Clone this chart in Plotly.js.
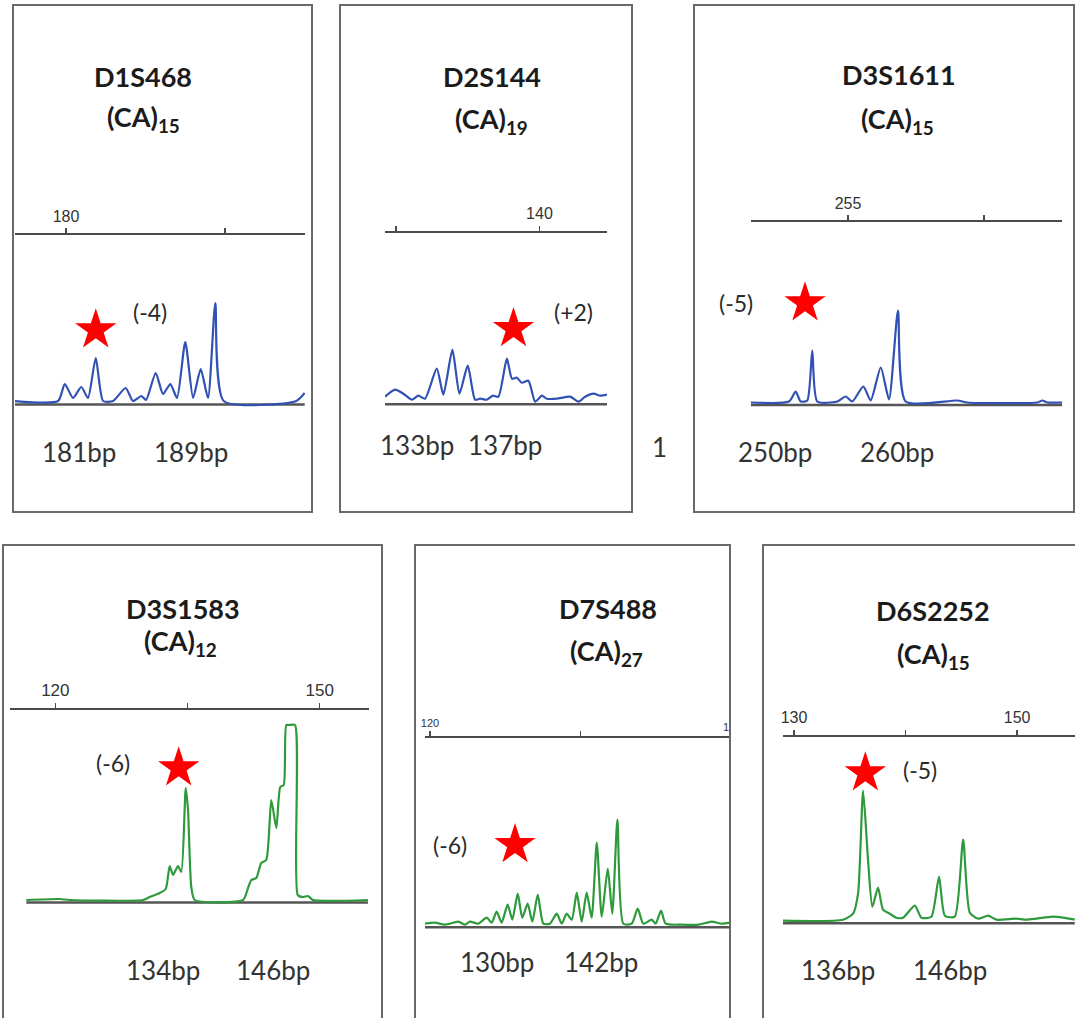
<!DOCTYPE html>
<html><head><meta charset="utf-8">
<script src="https://cdn.plot.ly/plotly-3.0.1.min.js"></script>
<style>html,body{margin:0;padding:0;background:#fff}#chart{width:1075px;height:1018px}</style>
</head><body><div id="chart"></div><script>
// ---------- DATA ----------
const markers = ['D1S468', 'D2S144', 'D3S1611', 'D3S1583', 'D7S488', 'D6S2252'];
const repeats = ['(CA)<sub>15</sub>', '(CA)<sub>19</sub>', '(CA)<sub>15</sub>', '(CA)<sub>12</sub>', '(CA)<sub>27</sub>', '(CA)<sub>15</sub>'];
const shiftLabels = ['(-4)', '(+2)', '(-5)', '(-6)', '(-6)', '(-5)'];
const alleleLabels = [['181bp', '189bp'], ['133bp', '137bp'], ['250bp', '260bp'], ['134bp', '146bp'], ['130bp', '142bp'], ['136bp', '146bp']];
const tickVals = [[180], [140], [255], [120, 150], [120], [130, 150]];
const tickText = [['180'], ['140'], ['255'], ['120', '150'], ['120'], ['130', '150']];
const minorTickVals = [[190], [130], [270], [135], [130], [140]];
const starBp = [181.87, 138.19, 250.26, 134.0, 125.65, 136.39];
const starHeight = [73, 74, 100.6, 133, 81, 148.7];

const p1Bp = [176.77, 179.50, 179.92, 180.44, 180.96, 181.38, 181.87, 182.33, 182.96, 183.75, 184.21, 184.74, 185.03, 185.64, 186.10, 186.56, 186.98, 187.50, 187.99, 188.47, 188.93, 189.39, 189.92, 194.48, 195.01];
const p1Signal = [2, 2, 19, 5, 16, 5, 45, 2, 2, 15, 2, 7, 3, 30, 9, 19, 5, 61, 5, 34, 5, 100, 2, 2, 10];
const p2Bp = [129.23, 129.93, 130.51, 131.10, 131.56, 132.02, 132.84, 133.30, 133.93, 134.42, 135.00, 135.51, 135.86, 136.33, 136.75, 137.14, 137.73, 138.08, 138.42, 138.77, 139.23, 139.70, 140.17, 140.52, 141.21, 142.14, 142.72, 143.19, 143.77, 144.24, 144.71];
const p2Signal = [6, 13, 9, 3, 7, 4, 34, 8, 53, 9, 37, 3, 4, 3, 7, 6, 44, 24, 25, 20, 22, 1, 7, 4, 4, 6, 1, 6, 9, 7, 8];
const p3Bp = [244.27, 248.49, 249.23, 249.78, 250.51, 251.06, 251.61, 253.82, 254.75, 255.47, 256.69, 257.50, 258.61, 259.52, 260.51, 261.36, 267.05, 268.16, 275.88, 276.43, 276.98, 278.63];
const p3Signal = [1, 2, 12, 2, 3, 53, 2, 2, 7, 2, 17, 3, 36, 4, 93, 2, 3, 1, 1, 3, 1, 1];
const p4Bp = [116.71, 120.50, 121.63, 129.95, 130.71, 131.85, 132.53, 132.98, 133.36, 133.92, 134.30, 134.80, 135.06, 135.43, 135.82, 141.30, 141.87, 142.24, 142.81, 143.37, 143.94, 144.51, 145.08, 145.53, 145.92, 146.21, 146.52, 147.20, 147.51, 148.11, 148.67, 149.24, 155.48];
const p4Signal = [1, 2, 1, 1, 4, 8, 12, 35, 26, 35, 29, 113, 91, 14, 1, 1, 13, 21, 23, 38, 41, 101, 73, 114, 116, 176, 176, 176, 6, 4, 5, 1, 1];
const p5Bp = [119.67, 120.33, 121.00, 121.88, 122.33, 122.66, 123.21, 123.77, 124.10, 124.43, 124.76, 125.16, 125.47, 125.83, 126.13, 126.49, 126.80, 127.16, 127.53, 127.97, 128.42, 128.75, 129.08, 129.42, 129.75, 130.08, 130.41, 130.74, 131.08, 131.41, 131.81, 132.11, 132.45, 132.84, 133.40, 133.80, 134.17, 134.73, 134.99, 135.35, 135.66, 136.72, 137.83, 138.72, 139.38, 139.93];
const p5Signal = [2, 3, 1, 4, 1, 4, 2, 8, 3, 14, 3, 21, 6, 32, 8, 22, 4, 31, 2, 2, 12, 2, 12, 6, 33, 4, 33, 8, 83, 9, 57, 12, 106, 2, 2, 17, 2, 6, 2, 15, 2, 1, 1, 4, 2, 3];
const p6Bp = [129.01, 134.39, 135.29, 135.74, 136.19, 136.64, 137.02, 137.53, 137.98, 138.58, 139.17, 139.78, 140.83, 141.42, 142.31, 143.00, 143.52, 144.41, 145.16, 145.76, 146.50, 147.40, 148.14, 149.94, 150.84, 153.23, 154.13, 155.17];
const p6Signal = [1, 2, 8, 28, 131, 61, 15, 34, 12, 8, 4, 4, 16, 4, 5, 45, 6, 5, 82, 9, 3, 6, 2, 3, 2, 5, 4, 2];

const bpSeries = [p1Bp, p2Bp, p3Bp, p4Bp, p5Bp, p6Bp];
const signalSeries = [p1Signal, p2Signal, p3Signal, p4Signal, p5Signal, p6Signal];

// ---------- LAYOUT GEOMETRY (pixels) ----------
const W = 1075, H = 1018;
const px = v => v / W, py = v => 1 - v / H;
const geom = [
  {x0: 15, x1: 305, range: [176.79, 195.03], scaleY: 234, base: 403, top: 112, tick: 16, color: '#3151b3'},
  {x0: 385, x1: 607, range: [129.23, 144.71], scaleY: 231.5, base: 402.7, top: 82, tick: 16, color: '#3151b3'},
  {x0: 750.7, x1: 1062.3, range: [244.27, 278.63], scaleY: 221, base: 403.5, top: 112, tick: 16, color: '#3151b3'},
  {x0: 10.3, x1: 369, range: [114.89, 155.60], scaleY: 709, base: 901, top: 185, tick: 17, color: '#2f9a3c'},
  {x0: 425, x1: 730, range: [119.67, 139.93], scaleY: 737, base: 925.7, top: 115, tick: 11, color: '#2f9a3c'},
  {x0: 783, x1: 1075, range: [129.01, 155.19], scaleY: 735.7, base: 921.7, top: 155, tick: 16, color: '#2f9a3c'}
];
const boxes = [[13, 5, 312, 512], [340, 5, 632, 512], [694, 5, 1074, 512], [3, 545, 382, 1030], [415, 545, 730, 1030], [763, 545, 1080, 1030]];
const titlePos = [[143, 77], [491.7, 76.7], [898.5, 75], [183, 608], [607.5, 608], [932.7, 610]];
const subPos = [[143, 118], [491, 121], [897, 121], [180, 642], [606.7, 652], [933.8, 655]];
const shiftPos = [[149.7, 311.7], [573.3, 311.7], [735.7, 303.3], [113, 763.3], [450, 845], [919.7, 770]];
const allelePos = [[[79, 452], [191, 452]], [[417, 445], [505, 445]], [[775, 452], [897, 452]], [[163, 970], [273, 970]], [[497, 962], [601, 962]], [[838, 970], [950, 970]]];

const FONT = 'Lato, "Open Sans", sans-serif';
const traces = [];
const layout = {
  width: W, height: H, margin: {l: 0, r: 0, t: 0, b: 0},
  paper_bgcolor: '#fff', plot_bgcolor: 'rgba(0,0,0,0)', showlegend: false,
  shapes: [], annotations: []
};

geom.forEach((g, i) => {
  const n = i + 1, xa = 'x' + n, ya = 'y' + n;
  traces.push({
    type: 'scatter', mode: 'lines', x: bpSeries[i], y: signalSeries[i], xaxis: xa, yaxis: ya,
    line: {color: g.color, width: 2.2, shape: 'spline', smoothing: 0.6}, hoverinfo: 'skip'
  });
  traces.push({
    type: 'scatter', mode: 'markers', x: [starBp[i]], y: [starHeight[i]], xaxis: xa, yaxis: ya,
    marker: {symbol: 'star', size: 31, color: '#ff0000', line: {width: 0}}, cliponaxis: false, hoverinfo: 'skip'
  });
  layout['xaxis' + n] = {
    domain: [px(g.x0), px(g.x1)], range: g.range, side: 'top', anchor: 'free', position: py(g.scaleY),
    showline: true, linecolor: '#4a4a4a', linewidth: 2, showgrid: false, zeroline: false,
    ticks: 'outside', ticklen: 5, tickwidth: 1.5, tickcolor: '#4a4a4a',
    tickmode: 'array', tickvals: tickVals[i], ticktext: tickText[i],
    minor: {tickmode: 'array', tickvals: minorTickVals[i], ticks: 'outside', ticklen: 5, tickwidth: 1.5, tickcolor: '#4a4a4a', showgrid: false},
    tickfont: {family: 'Liberation Sans, Arial, sans-serif', size: g.tick, color: '#333'}, fixedrange: true
  };
  layout['yaxis' + n] = {
    domain: [py(g.base + 6), py(g.base - g.top)], range: [-6, g.top], anchor: xa,
    showgrid: false, zeroline: false, showline: false, showticklabels: false, ticks: '', fixedrange: true
  };
  const bp = bpSeries[i];
  layout.shapes.push({type: 'line', xref: xa, yref: ya, x0: bp[0], x1: bp[bp.length - 1], y0: -1.5, y1: -1.5,
    line: {color: '#555', width: 2.5}, layer: 'below'});
  const b = boxes[i];
  layout.shapes.push({type: 'rect', xref: 'paper', yref: 'paper', x0: px(b[0]), x1: px(b[2]), y0: py(b[3]), y1: py(b[1]),
    line: {color: '#6a6a6a', width: 2}});
  const ann = (t, p, size, bold, color) => layout.annotations.push({
    xref: 'paper', yref: 'paper', x: px(p[0]), y: py(p[1]), xanchor: 'center', yanchor: 'middle',
    text: bold ? '<b>' + t + '</b>' : t, showarrow: false, font: {family: FONT, size: size, color: color || '#222'}
  });
  ann(markers[i], titlePos[i], 27, true, '#1b1b1b');
  ann(repeats[i], subPos[i], 27, true, '#1b1b1b');
  ann(shiftLabels[i], shiftPos[i], 23, false, '#2a2a2a');
  ann(alleleLabels[i][0], allelePos[i][0], 26, false, '#333');
  ann(alleleLabels[i][1], allelePos[i][1], 26, false, '#333');
});
layout.annotations.push({xref: 'paper', yref: 'paper', x: px(659), y: py(447), text: '1', showarrow: false,
  font: {family: FONT, size: 26, color: '#333'}, xanchor: 'center', yanchor: 'middle'});
layout.annotations.push({xref: 'paper', yref: 'paper', x: px(726), y: py(727), text: '1', showarrow: false,
  font: {family: 'Liberation Sans, Arial, sans-serif', size: 11, color: '#333'}, xanchor: 'center', yanchor: 'middle'});

Plotly.newPlot('chart', traces, layout, {staticPlot: true, displayModeBar: false});
</script></body></html>
